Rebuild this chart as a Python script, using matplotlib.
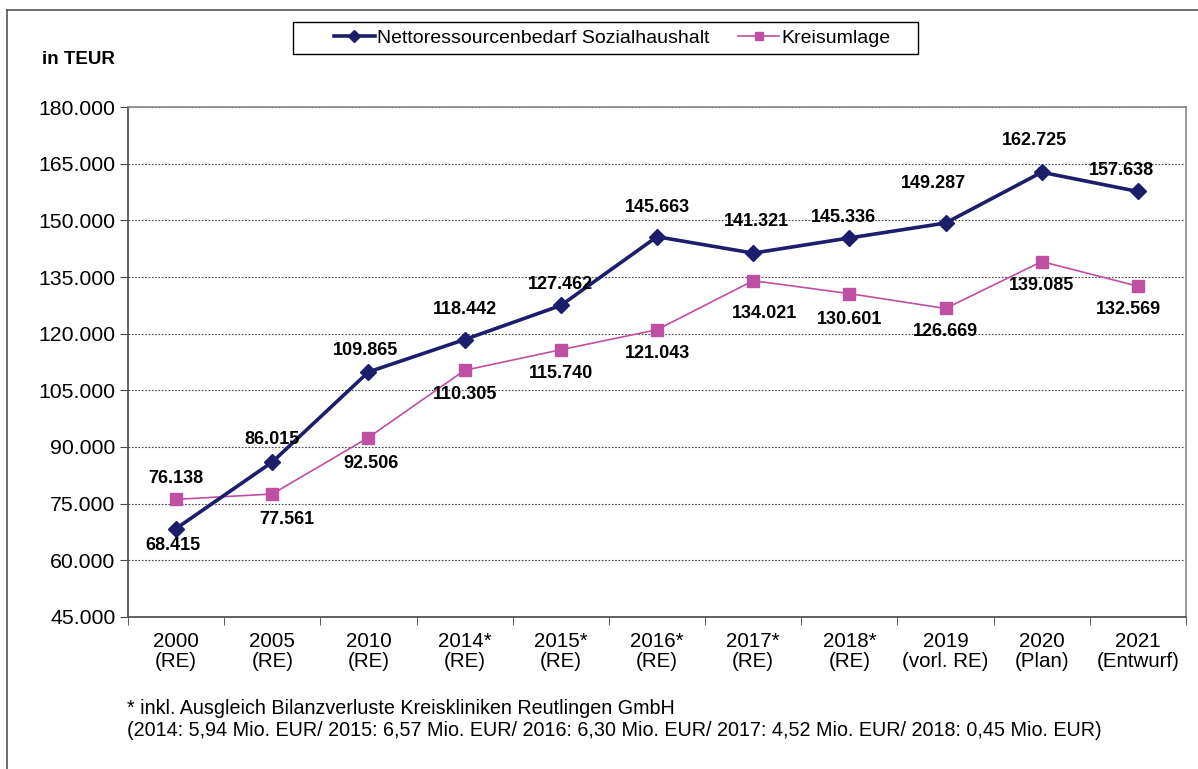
import numpy as np
import matplotlib
matplotlib.use('Agg')
import matplotlib.pyplot as plt
from matplotlib.lines import Line2D
from matplotlib.patches import Rectangle
from matplotlib.ticker import FuncFormatter, MultipleLocator

plt.rcParams['font.family'] = ['Liberation Sans', 'DejaVu Sans']

categories = ['2000\n(RE)', '2005\n(RE)', '2010\n(RE)', '2014*\n(RE)', '2015*\n(RE)',
              '2016*\n(RE)', '2017*\n(RE)', '2018*\n(RE)', '2019\n(vorl. RE)',
              '2020\n(Plan)', '2021\n(Entwurf)']
sozial = [68415, 86015, 109865, 118442, 127462, 145663, 141321, 145336, 149287, 162725, 157638]
kreisumlage = [76138, 77561, 92506, 110305, 115740, 121043, 134021, 130601, 126669, 139085, 132569]

# label offsets in pixels (dx, dy), dy positive = up
sozial_off = [(-3, -17), (0, 23), (-3, 21), (0, 30), (0, 21), (0, 29), (3, 32), (-6, 20),
              (-12, 40), (-7, 32), (-16, 21)]
kreis_off = [(0, 21), (15, -26), (3, -26), (0, -24), (0, -24), (0, -24), (11, -33), (0, -26),
             (0, -23), (0, -24), (-9, -23)]

navy = '#1C1D6B'
pink = '#BF4FA0'
W, H = 1198, 769

fig = plt.figure(figsize=(11.98, 7.69), dpi=100)
ax = fig.add_axes([128 / W, 1 - 617 / H, (1186 - 128) / W, (617 - 107) / H])

x = np.arange(len(categories))
ax.plot(x, sozial, color=navy, lw=2.6, marker='D', ms=8.5, label='Nettoressourcenbedarf Sozialhaushalt', zorder=4)
ax.plot(x, kreisumlage, color=pink, lw=1.2, marker='s', ms=8, label='Kreisumlage', zorder=3)

fmt = lambda v: f'{v:,.0f}'.replace(',', '.')
px = 0.72
for xi, v, (dx, dy) in zip(x, sozial, sozial_off):
    ax.annotate(fmt(v), (xi, v), xytext=(dx * px, dy * px), textcoords='offset points',
                ha='center', va='center', fontsize=13, fontweight='bold', color='black', zorder=5)
for xi, v, (dx, dy) in zip(x, kreisumlage, kreis_off):
    ax.annotate(fmt(v), (xi, v), xytext=(dx * px, dy * px), textcoords='offset points',
                ha='center', va='center', fontsize=13, fontweight='bold', color='black', zorder=5)

ax.set_xlim(-0.5, len(categories) - 0.5)
ax.set_ylim(45000, 180000)
ax.yaxis.set_major_locator(MultipleLocator(15000))
ax.yaxis.set_major_formatter(FuncFormatter(lambda v, p: fmt(v)))
ax.grid(axis='y', linestyle=(0, (1.5, 1.5)), color='#444444', lw=0.8)
ax.set_axisbelow(True)

ax.set_xticks(x)
ax.set_xticklabels(categories, fontsize=14.8, linespacing=1.05)
ax.set_xticks(np.arange(-0.5, len(categories)), minor=True)
ax.tick_params(axis='x', which='major', length=0, pad=11)
ax.tick_params(axis='x', which='minor', length=6, direction='out', color='#444444')
ax.tick_params(axis='y', length=6, direction='out', labelsize=15.3, color='#444444', pad=3)

for s in ['left', 'bottom']:
    ax.spines[s].set_color('#555555')
    ax.spines[s].set_linewidth(1.3)
for s in ['top', 'right']:
    ax.spines[s].set_color('#8a8a8a')
    ax.spines[s].set_linewidth(1.2)

# legend without its own frame, box drawn separately
fig.legend(loc='center', bbox_to_anchor=(612 / W, 1 - 38 / H), ncol=2, frameon=False,
           fontsize=14, handlelength=2.1, columnspacing=1.5, borderpad=0.3,
           handletextpad=0.1, markerscale=0.7, borderaxespad=0)
fig.add_artist(Rectangle((293 / W, 1 - 54 / H), (918 - 293) / W, 32 / H, transform=fig.transFigure,
                         fill=False, edgecolor='black', lw=1.0))

fig.text(42 / W, 1 - 60 / H, 'in TEUR', fontsize=13.5, fontweight='bold', va='center', ha='left')

fig.text(127 / W, 1 - 708 / H, '* inkl. Ausgleich Bilanzverluste Kreiskliniken Reutlingen GmbH',
         fontsize=14.2, va='center', ha='left')
fig.text(127 / W, 1 - 730 / H,
         '(2014: 5,94 Mio. EUR/ 2015: 6,57 Mio. EUR/ 2016: 6,30 Mio. EUR/ 2017: 4,52 Mio. EUR/ 2018: 0,45 Mio. EUR)',
         fontsize=14.2, va='center', ha='left')

fig.add_artist(Line2D([7 / W, 7 / W], [0, 1 - 10 / H], transform=fig.transFigure, color='#555555', lw=1.2))
fig.add_artist(Line2D([7 / W, 1], [1 - 10 / H, 1 - 10 / H], transform=fig.transFigure, color='#555555', lw=1.2))

fig.savefig('out.png', dpi=100)
